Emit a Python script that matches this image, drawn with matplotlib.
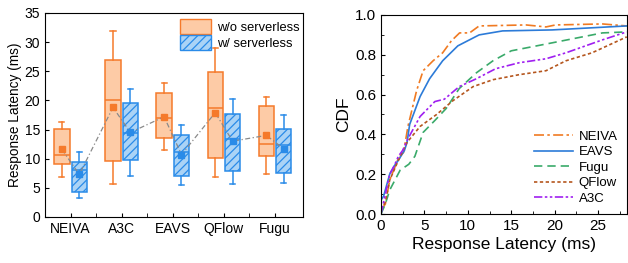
import numpy as np
import matplotlib
matplotlib.use("Agg")
import matplotlib.pyplot as plt
from matplotlib.patches import Patch
from matplotlib.ticker import AutoMinorLocator, MultipleLocator

plt.rcParams['font.family'] = ['Liberation Sans', 'DejaVu Sans']
plt.rcParams['hatch.linewidth'] = 0.9

# ---- box plot data (ms) ----
methods = ['NEIVA', 'A3C', 'EAVS', 'QFlow', 'Fugu']
# w/o serverless: low whisker, q1, median, q3, high whisker, mean
wo_low = [6.9, 5.7, 11.5, 6.8, 7.4]
wo_q1 = [9.1, 9.6, 13.6, 10.1, 10.5]
wo_med = [10.7, 20.0, 16.9, 18.7, 12.5]
wo_q3 = [15.1, 26.9, 21.3, 24.9, 19.0]
wo_high = [16.3, 31.9, 23.0, 29.0, 20.6]
wo_mean = [11.6, 18.8, 17.2, 17.9, 14.0]
# w/ serverless
w_low = [3.3, 7.1, 5.5, 5.7, 5.9]
w_q1 = [4.3, 9.7, 7.1, 7.9, 7.6]
w_med = [8.0, 14.4, 11.1, 13.4, 12.3]
w_q3 = [9.5, 19.6, 14.0, 17.7, 15.1]
w_high = [11.2, 22.0, 15.8, 20.3, 17.5]
w_mean = [7.3, 14.5, 10.7, 13.0, 11.7]

# ---- CDF data ----
neiva_x = [0, 0.5, 1, 2, 2.6, 3.1, 4.1, 4.85, 6, 7.1, 8.1, 9.05, 10.2, 11.3, 16.7, 19, 20.1, 25.5, 28.3]
neiva_y = [0.02, 0.05, 0.17, 0.28, 0.31, 0.44, 0.62, 0.72, 0.77, 0.81, 0.87, 0.91, 0.91, 0.945, 0.95, 0.94, 0.95, 0.955, 0.945]
eavs_x = [0, 0.3, 1, 1.5, 2, 2.7, 3.0, 3.3, 4.5, 5.6, 7.1, 8.85, 11.3, 14, 19.7, 28.3]
eavs_y = [0.07, 0.09, 0.2, 0.24, 0.27, 0.32, 0.36, 0.45, 0.59, 0.68, 0.77, 0.845, 0.90, 0.92, 0.925, 0.945]
fugu_x = [0, 0.5, 1, 2.2, 3.2, 3.9, 4.85, 6.2, 7.5, 9, 11, 12.9, 15, 19.7, 25.5, 28.3]
fugu_y = [0.0, 0.05, 0.12, 0.22, 0.25, 0.29, 0.41, 0.47, 0.53, 0.63, 0.71, 0.77, 0.82, 0.86, 0.91, 0.915]
qflow_x = [0, 0.5, 1, 2, 3, 4.5, 6.4, 8.3, 10.6, 12.9, 15.9, 19, 21.3, 24.3, 28.3]
qflow_y = [0.02, 0.06, 0.17, 0.27, 0.36, 0.44, 0.50, 0.57, 0.64, 0.675, 0.70, 0.72, 0.77, 0.81, 0.89]
a3c_x = [0, 0.5, 1, 1.5, 2, 2.5, 3, 4.5, 6.2, 7.3, 9, 11, 13.2, 15.9, 19, 21.3, 25.5, 28.3]
a3c_y = [0.0, 0.1, 0.2, 0.24, 0.29, 0.32, 0.37, 0.49, 0.565, 0.577, 0.64, 0.68, 0.73, 0.76, 0.78, 0.81, 0.875, 0.915]

orange_edge = '#F57A2B'
orange_face = '#FDCBA6'
blue_edge = '#2A8BE8'
blue_face = '#AAD3F6'

fig = plt.figure(figsize=(6.28, 2.63), dpi=100)
ax1 = fig.add_axes([0.0717, 0.175, 0.411, 0.7756])
ax2 = fig.add_axes([0.6067, 0.1863, 0.3913, 0.7567])

# ---- left: box plot ----
pos = np.arange(len(methods))
off = 0.17
def stats(lo, q1, med, q3, hi, mean):
    return [dict(whislo=lo[i], q1=q1[i], med=med[i], q3=q3[i], whishi=hi[i], mean=mean[i], fliers=[])
            for i in range(len(lo))]

for st, p, ec, fc, hatch in [
        (stats(wo_low, wo_q1, wo_med, wo_q3, wo_high, wo_mean), pos - off, orange_edge, orange_face, None),
        (stats(w_low, w_q1, w_med, w_q3, w_high, w_mean), pos + off, blue_edge, blue_face, '////')]:
    bp = ax1.bxp(st, positions=p, widths=0.3, patch_artist=True, showmeans=True, showfliers=False,
                 boxprops=dict(facecolor=fc, edgecolor=ec, linewidth=1.1),
                 medianprops=dict(color=ec, linewidth=1.1),
                 whiskerprops=dict(color=ec, linewidth=1.1),
                 capprops=dict(color=ec, linewidth=1.1),
                 meanprops=dict(marker='s', markersize=4.5, markerfacecolor=ec, markeredgecolor=ec))
    for b in bp['boxes']:
        if hatch:
            b.set_hatch(hatch)
    for c in bp['caps']:
        x = c.get_xdata()
        m = x.mean()
        c.set_xdata([m - 0.05, m + 0.05])
    for mk in bp['means']:
        mk.set_zorder(5)

# dash-dot line through the means, in order
line_x = np.ravel(np.column_stack([pos - off, pos + off]))
line_y = np.ravel(np.column_stack([wo_mean, w_mean]))
ax1.plot(line_x, line_y, color='#8a8a8a', linestyle=(0, (4, 2, 1, 2)), linewidth=0.9, zorder=4)

ax1.set_xlim(-0.5, 4.55)
ax1.set_ylim(0, 35)
ax1.set_xticks(pos)
ax1.set_xticklabels(methods, fontsize=10)
ax1.set_xticks(pos[:-1] + 0.5, minor=True)
ax1.yaxis.set_major_locator(MultipleLocator(5))
ax1.tick_params(axis='both', direction='in', labelsize=10, length=3)
ax1.tick_params(axis='x', which='minor', direction='in', length=3)
ax1.set_ylabel('Response Latency (ms)', fontsize=9.8, labelpad=2)
h = [Patch(facecolor=orange_face, edgecolor=orange_edge, label='w/o serverless'),
     Patch(facecolor=blue_face, edgecolor=blue_edge, hatch='////', label='w/ serverless')]
ax1.legend(handles=h, loc='upper right', bbox_to_anchor=(1.005, 0.995), frameon=False, fontsize=9.3,
           handlelength=2.4, handleheight=1.4, handletextpad=0.4, labelspacing=0.1,
           borderaxespad=0.0)

# ---- right: CDF ----
ax2.plot(neiva_x, neiva_y, color='#F07A22', linestyle=(0, (6, 2, 1.5, 2)), linewidth=1.2, label='NEIVA')
ax2.plot(eavs_x, eavs_y, color='#2C7BD8', linestyle='-', linewidth=1.2, label='EAVS')
ax2.plot(fugu_x, fugu_y, color='#3AAA6A', linestyle=(0, (5, 3)), linewidth=1.2, label='Fugu')
ax2.plot(qflow_x, qflow_y, color='#B5561E', linestyle=(0, (2, 1.5)), linewidth=1.2, label='QFlow')
ax2.plot(a3c_x, a3c_y, color='#A020F0', linestyle=(0, (5, 1.5, 1.5, 1.5, 1.5, 1.5)), linewidth=1.2, label='A3C')
ax2.set_xlim(0, 28.3)
ax2.set_ylim(0, 1.0)
ax2.xaxis.set_major_locator(MultipleLocator(5))
ax2.yaxis.set_major_locator(MultipleLocator(0.2))
ax2.xaxis.set_minor_locator(AutoMinorLocator(2))
ax2.yaxis.set_minor_locator(AutoMinorLocator(2))
ax2.yaxis.set_major_formatter(plt.FormatStrFormatter('%.1f'))
ax2.tick_params(axis='both', which='both', direction='in', labelsize=11)
ax2.tick_params(which='major', length=3)
ax2.tick_params(which='minor', length=2)
ax2.set_xlabel('Response Latency (ms)', fontsize=12.5, labelpad=3)
ax2.set_ylabel('CDF', fontsize=12.5, labelpad=3)
ax2.legend(loc='lower right', frameon=False, fontsize=9.5, handlelength=3.0, labelspacing=0.25,
           handletextpad=0.4, borderaxespad=0.3)

plt.savefig('out.png', dpi=100)
